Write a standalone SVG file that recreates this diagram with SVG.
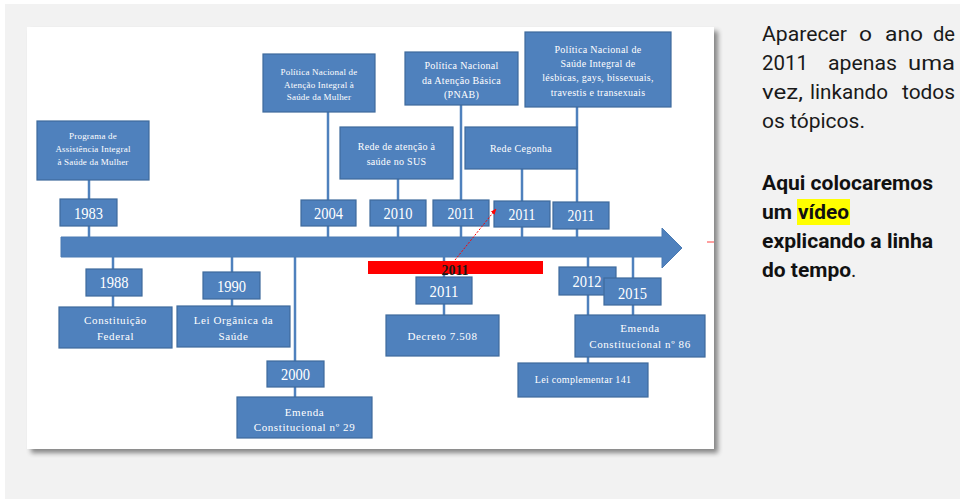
<svg xmlns="http://www.w3.org/2000/svg" width="960" height="499" viewBox="0 0 960 499">
<style>
.box{fill:#4f81bd;stroke:#3e6a9c;stroke-width:1.2}
.bt{font-family:"Liberation Serif","Times New Roman",serif;fill:#ffffff;text-anchor:middle}
.yr{font-size:16px}
.sm{font-size:9px;letter-spacing:0.2px}
.md{font-size:10px;letter-spacing:0.3px}
.lg{font-size:11px;letter-spacing:0.6px}
.conn{stroke:#4f81bd;stroke-width:2.5;fill:none}
.rt{font-family:Roboto,"Noto Sans",sans-serif;font-size:20px;fill:#1a1a1a}
.rb{font-weight:bold;fill:#111111}
</style>
<defs>
<filter id="sh" x="-5%" y="-5%" width="112%" height="115%">
<feGaussianBlur in="SourceAlpha" stdDeviation="2.5"/>
<feOffset dx="4" dy="4" result="b"/>
<feComponentTransfer><feFuncA type="linear" slope="0.45"/></feComponentTransfer>
<feMerge><feMergeNode/><feMergeNode in="SourceGraphic"/></feMerge>
</filter>
<marker id="ra" viewBox="0 0 10 10" refX="9" refY="5" markerWidth="6" markerHeight="6" orient="auto">
<path d="M0,1 L10,5 L0,9 z" fill="#ff0000"/>
</marker>
</defs>
<rect x="0" y="0" width="960" height="499" fill="#ffffff"/>
<rect x="5" y="4" width="955" height="495" fill="#f2f2f2"/>
<rect id="panel" x="27" y="27" width="687" height="422" fill="#ffffff" filter="url(#sh)"/>

<g id="connectors">
<line class="conn" x1="89" y1="180" x2="89" y2="238"/>
<line class="conn" x1="328" y1="112" x2="328" y2="238"/>
<line class="conn" x1="398" y1="179" x2="398" y2="238"/>
<line class="conn" x1="461" y1="105" x2="461" y2="238"/>
<line class="conn" x1="522" y1="169" x2="522" y2="238"/>
<line class="conn" x1="577" y1="107" x2="577" y2="238"/>
<line class="conn" x1="113" y1="256" x2="113" y2="307"/>
<line class="conn" x1="232" y1="256" x2="232" y2="306"/>
<line class="conn" x1="295" y1="256" x2="295" y2="397"/>
<line class="conn" x1="444" y1="256" x2="444" y2="315"/>
<line class="conn" x1="588" y1="256" x2="588" y2="363"/>
<line class="conn" x1="633" y1="256" x2="633" y2="315"/>
</g>

<g id="timeline">
<polygon points="61,237 662,237 662,228 682,248 662,268 662,257 61,257" fill="#4f81bd" stroke="#4a7ab3" stroke-width="1"/>
<line x1="707" y1="242" x2="714" y2="242" stroke="#ff4040" stroke-width="1"/>
</g>

<g id="n-prog">
<rect class="box" x="37" y="121" width="112" height="59"/>
<text class="bt sm"><tspan x="93" y="139">Programa de</tspan><tspan x="93" y="152">Assistência Integral</tspan><tspan x="93" y="165">à Saúde da Mulher</tspan></text>
</g>
<g id="n-1983">
<rect class="box" x="60" y="199" width="57" height="27"/>
<text class="bt yr" x="88.5" y="219" textLength="29" lengthAdjust="spacingAndGlyphs">1983</text>
</g>

<g id="n-pnaism">
<rect class="box" x="263" y="54" width="112" height="58"/>
<text class="bt sm"><tspan x="319" y="75">Política Nacional de</tspan><tspan x="319" y="88">Atenção Integral à</tspan><tspan x="319" y="100">Saúde da Mulher</tspan></text>
</g>
<g id="n-2004">
<rect class="box" x="301" y="200" width="55" height="26"/>
<text class="bt yr" x="328.5" y="219" textLength="29" lengthAdjust="spacingAndGlyphs">2004</text>
</g>

<g id="n-rede">
<rect class="box" x="340" y="127" width="113" height="52"/>
<text class="bt md"><tspan x="396.5" y="150">Rede de atenção à</tspan><tspan x="396.5" y="165">saúde no SUS</tspan></text>
</g>
<g id="n-2010">
<rect class="box" x="370" y="200" width="56" height="26"/>
<text class="bt yr" x="398" y="219" textLength="29" lengthAdjust="spacingAndGlyphs">2010</text>
</g>

<g id="n-pnab">
<rect class="box" x="405" y="52" width="113" height="53"/>
<text class="bt md"><tspan x="461.5" y="69">Política Nacional</tspan><tspan x="461.5" y="84">da Atenção Básica</tspan><tspan x="461.5" y="98">(PNAB)</tspan></text>
</g>
<g id="n-2011a">
<rect class="box" x="433" y="200" width="56" height="26"/>
<text class="bt yr" x="461" y="219" textLength="27" lengthAdjust="spacingAndGlyphs">2011</text>
</g>

<g id="n-cegonha">
<rect class="box" x="465" y="127" width="112" height="42"/>
<text class="bt md" x="521" y="152">Rede Cegonha</text>
</g>
<g id="n-2011b">
<rect class="box" x="494" y="201" width="56" height="26"/>
<text class="bt yr" x="522" y="220" textLength="27" lengthAdjust="spacingAndGlyphs">2011</text>
</g>

<g id="n-lgbt">
<rect class="box" x="525" y="32" width="146" height="75"/>
<text class="bt md"><tspan x="598" y="53">Política Nacional de</tspan><tspan x="598" y="67">Saúde Integral de</tspan><tspan x="598" y="81">lésbicas, gays, bissexuais,</tspan><tspan x="598" y="96">travestis e transexuais</tspan></text>
</g>
<g id="n-2011c">
<rect class="box" x="553" y="202" width="56" height="27"/>
<text class="bt yr" x="581" y="221" textLength="27" lengthAdjust="spacingAndGlyphs">2011</text>
</g>

<g id="n-1988">
<rect class="box" x="86" y="269" width="56" height="27"/>
<text class="bt yr" x="114" y="288" textLength="29" lengthAdjust="spacingAndGlyphs">1988</text>
</g>
<g id="n-cf">
<rect class="box" x="59" y="307" width="113" height="41"/>
<text class="bt lg"><tspan x="115.5" y="324">Constituição</tspan><tspan x="115.5" y="340">Federal</tspan></text>
</g>

<g id="n-1990">
<rect class="box" x="203" y="272" width="57" height="27"/>
<text class="bt yr" x="231.5" y="292" textLength="29" lengthAdjust="spacingAndGlyphs">1990</text>
</g>
<g id="n-loas">
<rect class="box" x="177" y="306" width="113" height="41"/>
<text class="bt lg"><tspan x="233.5" y="324">Lei Orgânica da</tspan><tspan x="233.5" y="340">Saúde</tspan></text>
</g>

<g id="n-2000">
<rect class="box" x="267" y="361" width="57" height="26"/>
<text class="bt yr" x="295.5" y="380" textLength="29" lengthAdjust="spacingAndGlyphs">2000</text>
</g>
<g id="n-ec29">
<rect class="box" x="237" y="397" width="135" height="41"/>
<text class="bt lg"><tspan x="304.5" y="416">Emenda</tspan><tspan x="304.5" y="431">Constitucional nº 29</tspan></text>
</g>

<g id="n-2011-red">
<rect x="368" y="261" width="175" height="13" fill="#ff0000"/>
<text x="455" y="275" font-family="Liberation Serif,serif" font-size="14" font-weight="bold" fill="#1a1a1a" text-anchor="middle">2011</text>
</g>

<g id="n-2011d">
<rect class="box" x="416" y="277" width="56" height="27"/>
<text class="bt yr" x="444" y="297" textLength="29" lengthAdjust="spacingAndGlyphs">2011</text>
</g>
<g id="n-decreto">
<rect class="box" x="386" y="315" width="113" height="41"/>
<text class="bt lg" x="442.5" y="340">Decreto 7.508</text>
</g>

<g id="n-2012">
<rect class="box" x="559" y="267" width="57" height="28"/>
<text class="bt yr" x="587" y="287" textLength="29" lengthAdjust="spacingAndGlyphs">2012</text>
</g>
<g id="n-2015">
<rect class="box" x="604" y="278" width="57" height="27"/>
<text class="bt yr" x="632.5" y="299" textLength="29" lengthAdjust="spacingAndGlyphs">2015</text>
</g>
<g id="n-ec86">
<rect class="box" x="575" y="315" width="130" height="42"/>
<text class="bt lg"><tspan x="640" y="332">Emenda</tspan><tspan x="640" y="348">Constitucional nº 86</tspan></text>
</g>
<g id="n-lc141">
<rect class="box" x="518" y="363" width="130" height="34"/>
<text class="bt md" x="583" y="383">Lei complementar 141</text>
</g>

<g id="red-link">
<line x1="455" y1="260" x2="496" y2="209" stroke="#ff0000" stroke-width="1" stroke-dasharray="2 1.5" marker-end="url(#ra)"/>
</g>

<g id="note">
<text class="rt" y="41"><tspan x="762" textLength="85" lengthAdjust="spacingAndGlyphs">Aparecer</tspan><tspan x="859" textLength="13" lengthAdjust="spacingAndGlyphs">o</tspan><tspan x="885" textLength="38" lengthAdjust="spacingAndGlyphs">ano</tspan><tspan x="933" textLength="22" lengthAdjust="spacingAndGlyphs">de</tspan></text>
<text class="rt" y="70"><tspan x="762" textLength="46" lengthAdjust="spacingAndGlyphs">2011</tspan><tspan x="828" textLength="69" lengthAdjust="spacingAndGlyphs">apenas</tspan><tspan x="908" textLength="47" lengthAdjust="spacingAndGlyphs">uma</tspan></text>
<text class="rt" y="99"><tspan x="762" textLength="41" lengthAdjust="spacingAndGlyphs">vez,</tspan><tspan x="810" textLength="78" lengthAdjust="spacingAndGlyphs">linkando</tspan><tspan x="902" textLength="53" lengthAdjust="spacingAndGlyphs">todos</tspan></text>
<text class="rt" y="128" x="762" textLength="103" lengthAdjust="spacingAndGlyphs">os tópicos.</text>
<text class="rt rb" y="190" x="762" textLength="171" lengthAdjust="spacingAndGlyphs">Aqui colocaremos</text>
<rect x="797" y="199" width="53" height="26" fill="#ffff00"/>
<text class="rt rb" y="219"><tspan x="762" textLength="30" lengthAdjust="spacingAndGlyphs">um</tspan><tspan x="798" textLength="51" lengthAdjust="spacingAndGlyphs">vídeo</tspan></text>
<text class="rt rb" y="248" x="762" textLength="171" lengthAdjust="spacingAndGlyphs">explicando a linha</text>
<text class="rt" y="277"><tspan class="rb" x="762" textLength="89" lengthAdjust="spacingAndGlyphs">do tempo</tspan><tspan>.</tspan></text>
</g>
</svg>
